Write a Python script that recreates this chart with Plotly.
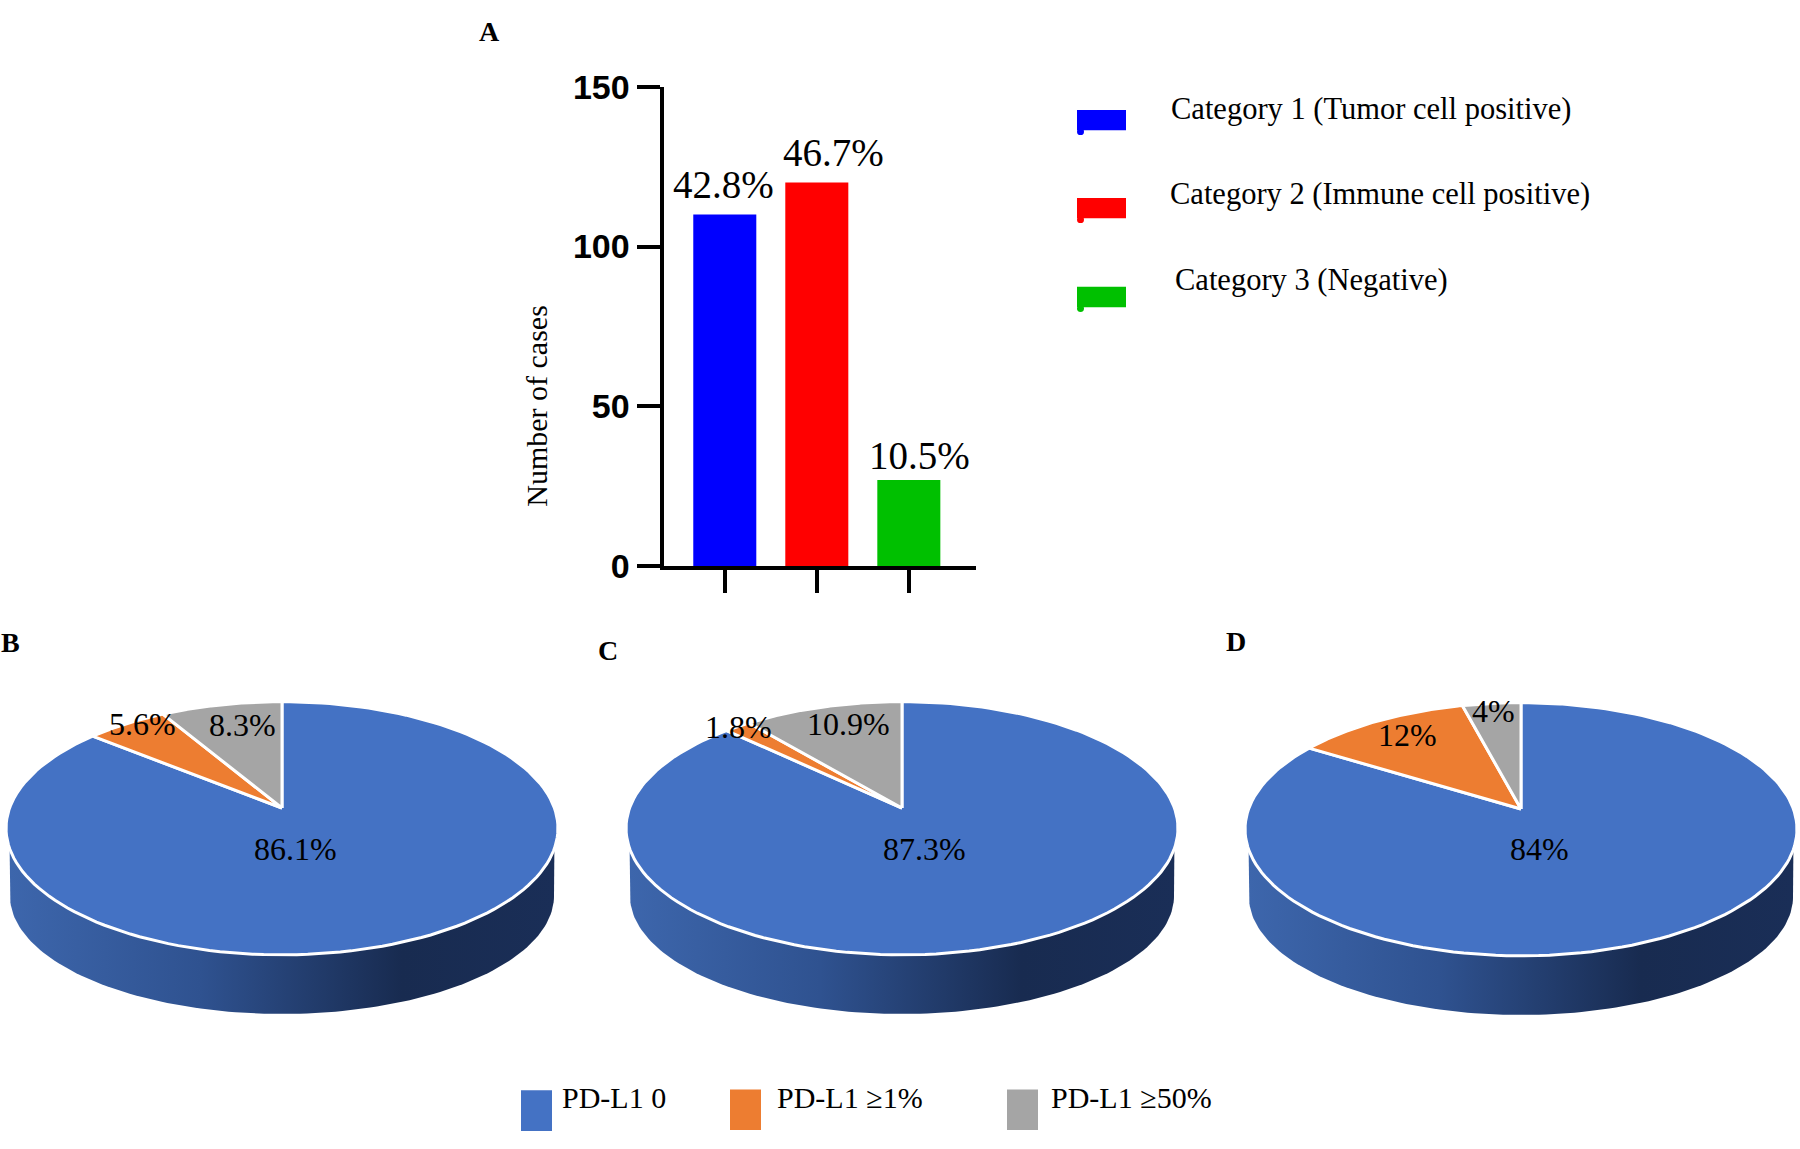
import numpy as np
import plotly.graph_objects as go

# ---------- data ----------
BAR_CATEGORIES = ["Category 1 (Tumor cell positive)", "Category 2 (Immune cell positive)", "Category 3 (Negative)"]
BAR_CASES = [110, 120, 27]
BAR_PERCENT_LABELS = ["42.8%", "46.7%", "10.5%"]
Y_TICKS = [0, 50, 100, 150]
PIE_CATEGORIES = ["PD-L1 0", "PD-L1 ≥1%", "PD-L1 ≥50%"]
PIE_B = [86.1, 5.6, 8.3]
PIE_C = [87.3, 1.8, 10.9]
PIE_D = [84, 12, 4]
PIE_B_LABELS = ["86.1%", "5.6%", "8.3%"]
PIE_C_LABELS = ["87.3%", "1.8%", "10.9%"]
PIE_D_LABELS = ["84%", "12%", "4%"]

# ---------- style and layout ----------
W, H = 1800, 1149
SERIF = "Liberation Serif"
SANS = "Liberation Sans"
BAR_COLORS = ["#0000FF", "#FF0000", "#00C000"]
PIE_COLORS = ["#4472C4", "#ED7D31", "#A5A5A5"]
WALL_SCALE = [[0, "#3D66AC"], [0.35, "#2F5290"], [0.72, "#182B50"], [1, "#1A2E57"]]


def px(x):
    return x / W


def py(y):
    return 1 - y / H


def text(x, y, s, size, bold=False, angle=0, anchor="center"):
    return dict(x=px(x), y=py(y), xref="paper", yref="paper", text=f"<b>{s}</b>" if bold else s,
                showarrow=False, xanchor=anchor, yanchor="middle", textangle=angle,
                font=dict(family=SERIF, size=size, color="black"))


def rect(x0, y0, x1, y1, color):
    return dict(type="rect", xref="paper", yref="paper", x0=px(x0), x1=px(x1), y0=py(y0), y1=py(y1),
                fillcolor=color, line=dict(width=0), layer="above")


fig = go.Figure()

# bar panel
BAR_X = (663.5, 976)
BAR_Y = (70, 566)
fig.add_trace(go.Bar(x=BAR_CATEGORIES, y=BAR_CASES, marker=dict(color=BAR_COLORS, line=dict(width=0)),
                     width=0.685, xaxis="x", yaxis="y", showlegend=False))
layout = dict(
    width=W, height=H, autosize=False, margin=dict(l=0, r=0, t=0, b=0),
    paper_bgcolor="white", plot_bgcolor="rgba(0,0,0,0)", showlegend=False,
    xaxis=dict(domain=[px(BAR_X[0]), px(BAR_X[1])], anchor="y", type="category", range=[-0.666, 2.73],
               showgrid=False, zeroline=False, showline=True, linecolor="black", linewidth=4,
               ticks="outside", ticklen=23, tickwidth=4, tickcolor="black", showticklabels=False),
    yaxis=dict(domain=[py(BAR_Y[1]), py(BAR_Y[0])], anchor="x", range=[0, 150], tickvals=Y_TICKS,
               showgrid=False, zeroline=False, showline=True, linecolor="black", linewidth=4,
               ticks="outside", ticklen=23, tickwidth=4, tickcolor="black",
               tickfont=dict(family=SANS, size=34, color="black", weight="bold")),
)

annotations = [
    text(490, 13, "A", 28, bold=True), text(10, 645, "B", 28, bold=True),
    text(608, 653, "C", 28, bold=True), text(1236, 644, "D", 28, bold=True),
    text(537, 400, "Number of cases", 30, angle=-90),
]
for (lx, ly), s in zip([(723, 171), (833, 138), (919, 451)], BAR_PERCENT_LABELS):
    annotations.append(text(lx, ly, s, 39))
for (lx, ly), s in zip([(1169, 93), (1168, 181), (1173, 270)], BAR_CATEGORIES):
    annotations.append(text(lx, ly, s, 30.5, anchor="left"))

shapes = []
for y0, c in zip([94, 185, 277], BAR_COLORS):
    shapes.append(rect(1077, y0, 1126, y0 + 21, c))
    shapes.append(dict(type="circle", xref="paper", yref="paper", x0=px(1077), x1=px(1084),
                       y0=py(y0 + 26), y1=py(y0 + 19), fillcolor=c, line=dict(width=0), layer="above"))

# pseudo-3D pies: perspective projection of a unit disc
A, B, K = 272.4, 127.6, 0.16


def project(u, v):
    return A * u / (1 + K * v), B * v / (1 + K * v)


def arc(f0, f1, n=160):
    t = 2 * np.pi * np.linspace(f0, f1, n)
    return project(np.sin(t), np.cos(t))


PANELS = [
    ("2", PIE_B, PIE_B_LABELS, 282, 816, [(295, 858), (142, 729), (242, 730)]),
    ("3", PIE_C, PIE_C_LABELS, 902, 816, [(925, 858), (738, 732), (848, 729)]),
    ("4", PIE_D, PIE_D_LABELS, 1521, 817, [(1539, 858), (1407, 741), (1493, 716)]),
]
for sfx, vals, labs, cx, cy, label_xy in PANELS:
    xa, ya = "x" + sfx, "y" + sfx
    xr, yr = (-285, 278), (-220, 120)
    left = max(cx + xr[0], 0)
    right = min(cx + xr[1], W)
    layout["xaxis" + sfx] = dict(domain=[px(left), px(right)], range=[left - cx, right - cx], visible=False, anchor="y" + sfx)
    layout["yaxis" + sfx] = dict(domain=[py(cy - yr[0]), py(cy - yr[1])], range=list(yr), visible=False, anchor="x" + sfx)

    # side wall
    t = np.linspace(-np.pi, 0, 120)
    base_x = 272 * np.cos(t)
    base_y = -91 + 122 * np.sin(t)
    wall_x = np.r_[-272.4, base_x, 272.4]
    wall_y = np.r_[-42, base_y, -42]
    fig.add_trace(go.Scatter(x=wall_x, y=wall_y, xaxis=xa, yaxis=ya, mode="lines", fill="toself",
                             line=dict(width=0), showlegend=False, hoverinfo="skip",
                             fillgradient=dict(type="horizontal", colorscale=WALL_SCALE)))
    # slices clockwise from the top
    start = 0.0
    for val, col in zip(vals, PIE_COLORS):
        end = start + val / sum(vals)
        ax, ay = arc(start, end)
        fig.add_trace(go.Scatter(x=np.r_[0, ax, 0], y=np.r_[0, ay, 0], xaxis=xa, yaxis=ya, mode="lines",
                                 fill="toself", fillcolor=col, line=dict(color="white", width=3),
                                 showlegend=False, hoverinfo="skip"))
        start = end
    for (lx, ly), s in zip(label_xy, labs):
        annotations.append(text(lx, ly, s, 32))

# bottom legend
for x0, y0, lx, c, s in zip([521, 730, 1007], [1108, 1107, 1107], [560, 775, 1049], PIE_COLORS, PIE_CATEGORIES):
    shapes.append(rect(x0, y0, x0 + 31, y0 + 42, c))
    annotations.append(text(lx, 1115, s, 30, anchor="left"))

fig.update_layout(**layout, annotations=annotations, shapes=shapes)
fig.write_html("out.html", config=dict(displayModeBar=False),
               post_script="document.body.style.margin='0';document.body.style.overflow='hidden';")
